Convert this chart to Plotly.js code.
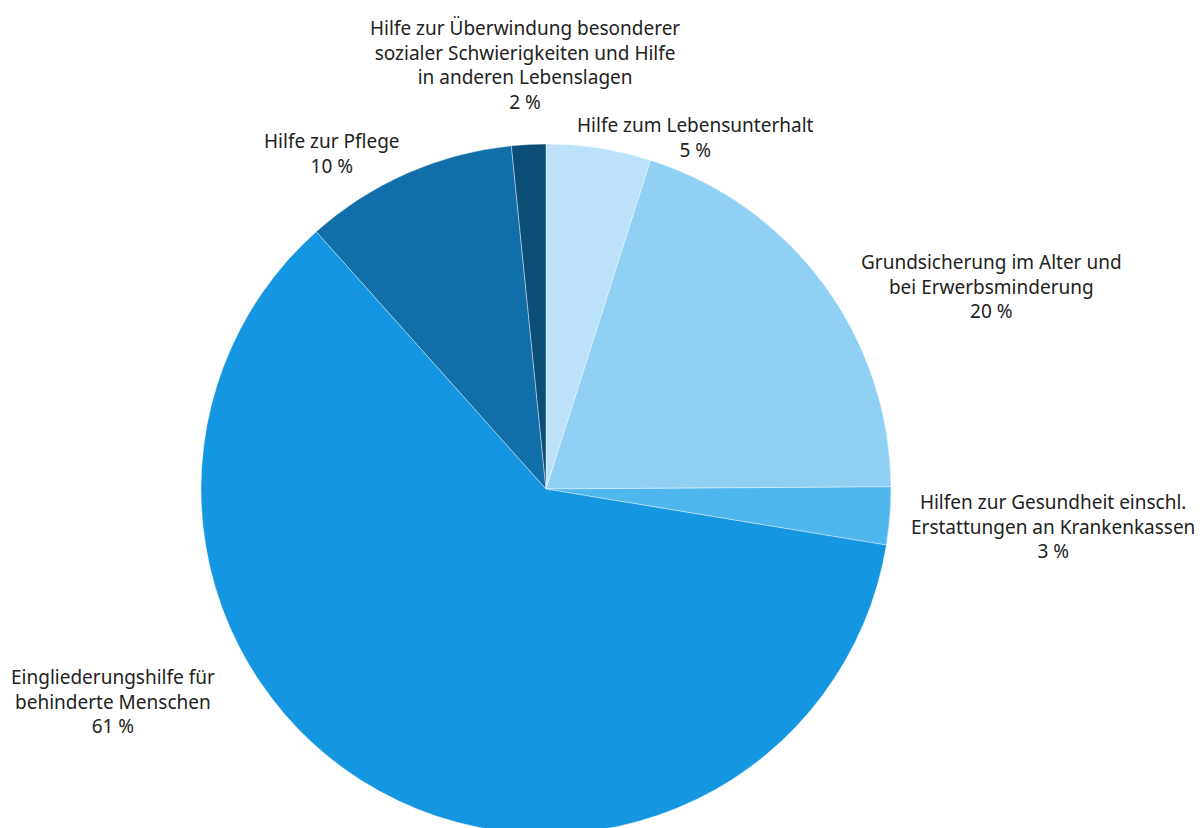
<!DOCTYPE html>
<html>
<head>
<meta charset="utf-8">
<script src="https://cdn.plot.ly/plotly-3.0.1.min.js"></script>
<style>html,body{margin:0;padding:0;overflow:hidden;background:#fff}</style>
</head>
<body>
<div id="chart" style="width:1202px;height:834px"></div>
<script>
// Data
const categories = [
  "Hilfe zum Lebensunterhalt",
  "Grundsicherung im Alter und<br>bei Erwerbsminderung",
  "Hilfen zur Gesundheit einschl.<br>Erstattungen an Krankenkassen",
  "Eingliederungshilfe für<br>behinderte Menschen",
  "Hilfe zur Pflege",
  "Hilfe zur Überwindung besonderer<br>sozialer Schwierigkeiten und Hilfe<br>in anderen Lebenslagen"
];
const values = [4.9, 20.0, 2.7, 60.8, 10.0, 1.6];
const percentLabels = ["5 %", "20 %", "3 %", "61 %", "10 %", "2 %"];
const colors = ["#bbe2f8", "#90d0f4", "#4fb7ee", "#1496e0", "#116ea8", "#0b4f78"];

// Label placement (pixel centres of the label blocks)
const labelPos = [[695, 138], [991, 286], [1053, 526], [113, 701], [332, 154], [525, 65]];

const W = 1202, H = 834;

const trace = {
  type: "pie",
  labels: categories,
  values: values,
  sort: false,
  direction: "clockwise",
  rotation: 0,
  textinfo: "none",
  hoverinfo: "label+percent",
  marker: {colors: colors, line: {color: "rgba(255,255,255,0.4)", width: 1}},
  domain: {x: [(546 - 345) / W, (546 + 345) / W], y: [0, 690 / H]},
  showlegend: false
};

const annotations = categories.map((c, i) => ({
  text: c + "<br>" + percentLabels[i],
  x: labelPos[i][0] / W,
  y: 1 - labelPos[i][1] / H,
  xref: "paper", yref: "paper",
  xanchor: "center", yanchor: "middle",
  showarrow: false,
  align: "center",
  font: {family: "Noto Sans, Open Sans, sans-serif", size: 19, color: "#222222"}
}));

Plotly.newPlot("chart", [trace], {
  width: W, height: H,
  margin: {l: 0, r: 0, t: 0, b: 0},
  paper_bgcolor: "#ffffff",
  annotations: annotations,
  showlegend: false
}, {displayModeBar: false, staticPlot: true});
</script>
</body>
</html>
